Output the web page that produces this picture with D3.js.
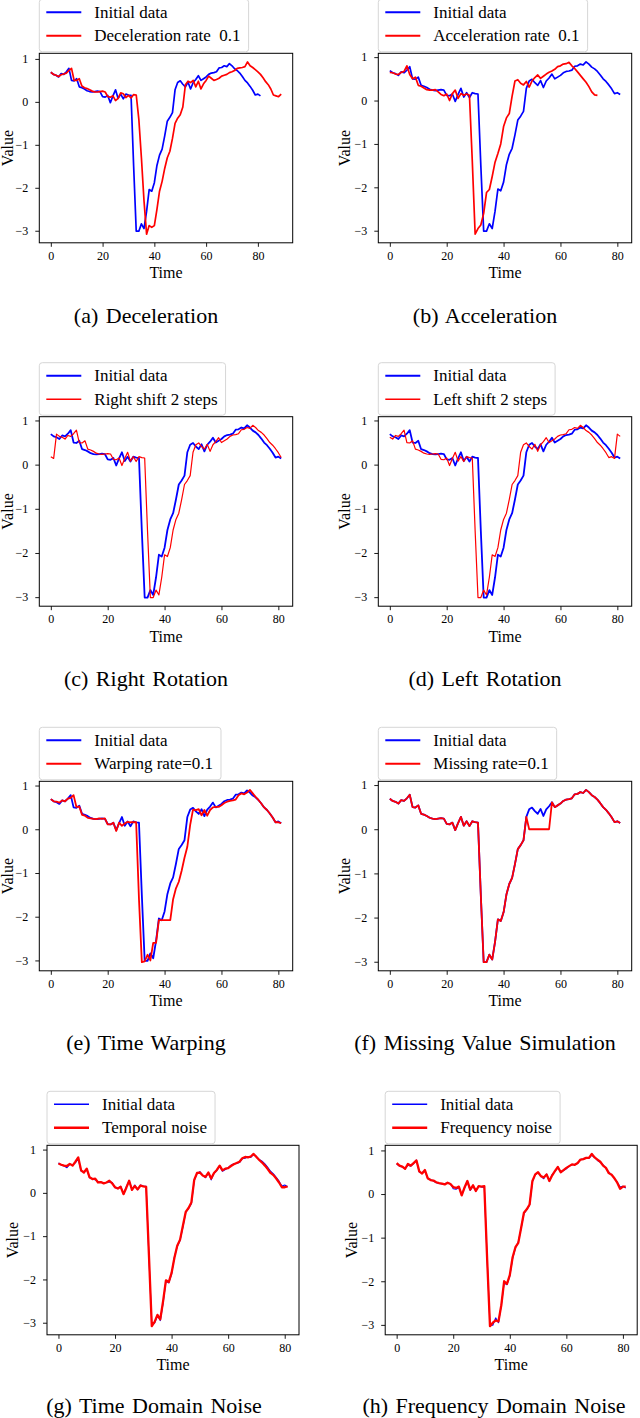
<!DOCTYPE html>
<html><head><meta charset="utf-8">
<script src="https://cdn.jsdelivr.net/npm/d3@7"></script>
<style>
html,body{margin:0;padding:0;background:#fff;}
svg{display:block;font-family:"Liberation Serif","Times New Roman",serif;}
</style></head><body>
<svg id="chart" width="640" height="1418"></svg>
<script>
// ---------- DATA ----------
const initialData = [0.69,0.64,0.62,0.58,0.66,0.64,0.70,0.78,0.50,0.49,
 0.54,0.35,0.33,0.30,0.26,0.24,0.23,0.24,0.25,0.24,
 0.12,0.11,0.15,-0.02,0.14,0.28,0.08,0.18,0.07,0.18,
 0.16,0.15,-1.50,-3.01,-3.01,-2.84,-2.95,-2.55,-2.04,-2.08,
 -1.88,-1.48,-1.24,-1.10,-0.79,-0.45,-0.36,-0.25,0.28,0.45,
 0.49,0.41,0.35,0.46,0.30,0.45,0.52,0.61,0.50,0.54,
 0.58,0.64,0.67,0.68,0.70,0.79,0.80,0.84,0.82,0.89,
 0.84,0.77,0.73,0.67,0.59,0.50,0.44,0.36,0.27,0.16,
 0.18,0.14];

const decelerated = [0.69,0.64,0.62,0.59,0.63,0.65,0.67,0.73,0.78,0.50,
 0.50,0.54,0.37,0.33,0.31,0.28,0.25,0.23,0.23,0.24,
 0.25,0.23,0.12,0.11,0.14,0.03,0.08,0.21,0.19,0.10,
 0.15,0.09,0.17,0.16,-0.40,-1.30,-2.30,-3.08,-2.88,-2.92,
 -2.88,-2.50,-2.08,-1.85,-1.55,-1.30,-1.15,-0.85,-0.50,-0.38,
 -0.30,-0.12,0.40,0.48,0.45,0.50,0.35,0.48,0.30,0.42,
 0.50,0.60,0.55,0.50,0.52,0.55,0.60,0.62,0.64,0.68,
 0.70,0.73,0.78,0.79,0.80,0.82,0.93,0.84,0.80,0.75,
 0.70,0.64,0.56,0.47,0.40,0.30,0.16,0.14,0.12,0.18];

const accelerated = [0.65,0.64,0.61,0.60,0.65,0.67,0.80,0.60,0.50,0.54,
 0.35,0.33,0.29,0.25,0.24,0.24,0.25,0.20,0.14,0.11,
 0.15,0.00,0.16,0.24,0.05,0.16,0.12,0.15,0.12,-1.40,
 -3.08,-2.95,-2.87,-2.60,-2.12,-2.05,-1.75,-1.42,-1.22,-1.00,
 -0.60,-0.40,-0.30,0.10,0.45,0.48,0.40,0.36,0.44,0.31,
 0.45,0.53,0.59,0.51,0.56,0.61,0.65,0.68,0.72,0.78,
 0.80,0.84,0.85,0.88,0.80,0.74,0.66,0.58,0.50,0.42,
 0.32,0.20,0.13,0.12];

const rightShifted = [0.18,0.14,0.69,0.64,0.62,0.58,0.66,0.64,0.70,0.78,
 0.50,0.49,0.54,0.35,0.33,0.30,0.26,0.24,0.23,0.24,
 0.25,0.24,0.12,0.11,0.15,-0.02,0.14,0.28,0.08,0.18,
 0.07,0.18,0.16,0.15,-1.50,-3.01,-3.01,-2.84,-2.95,-2.55,
 -2.04,-2.08,-1.88,-1.48,-1.24,-1.10,-0.79,-0.45,-0.36,-0.25,
 0.28,0.45,0.49,0.41,0.35,0.46,0.30,0.45,0.52,0.61,
 0.50,0.54,0.58,0.64,0.67,0.68,0.70,0.79,0.80,0.84,
 0.82,0.89,0.84,0.77,0.73,0.67,0.59,0.50,0.44,0.36,
 0.27,0.16];

const leftShifted = [0.62,0.58,0.66,0.64,0.70,0.78,0.50,0.49,0.54,0.35,
 0.33,0.30,0.26,0.24,0.23,0.24,0.25,0.24,0.12,0.11,
 0.15,-0.02,0.14,0.28,0.08,0.18,0.07,0.18,0.16,0.15,
 -1.50,-3.01,-3.01,-2.84,-2.95,-2.55,-2.04,-2.08,-1.88,-1.48,
 -1.24,-1.10,-0.79,-0.45,-0.36,-0.25,0.28,0.45,0.49,0.41,
 0.35,0.46,0.30,0.45,0.52,0.61,0.50,0.54,0.58,0.64,
 0.67,0.68,0.70,0.79,0.80,0.84,0.82,0.89,0.84,0.77,
 0.73,0.67,0.59,0.50,0.44,0.36,0.27,0.16,0.18,0.14,
 0.69,0.64];

const warped = [0.69,0.64,0.63,0.61,0.66,0.64,0.70,0.72,0.78,0.51,
 0.52,0.33,0.31,0.26,0.25,0.24,0.23,0.25,0.24,0.25,
 0.11,0.11,0.15,-0.04,0.15,0.08,0.13,0.17,0.16,0.16,
 0.16,-1.60,-3.04,-3.02,-2.87,-3.00,-2.60,-2.60,-2.08,-2.08,
 -2.08,-2.08,-2.08,-1.60,-1.35,-1.20,-0.95,-0.65,-0.40,0.10,
 0.45,0.44,0.46,0.32,0.44,0.31,0.44,0.50,0.51,0.51,
 0.55,0.60,0.63,0.65,0.66,0.68,0.78,0.82,0.80,0.84,
 0.90,0.82,0.74,0.67,0.59,0.50,0.44,0.36,0.27,0.16,
 0.16,0.14];

const missingFilled = [0.69,0.64,0.62,0.58,0.66,0.64,0.70,0.78,0.50,0.49,
 0.54,0.35,0.33,0.30,0.26,0.24,0.23,0.24,0.25,0.24,
 0.12,0.11,0.15,-0.02,0.14,0.28,0.08,0.18,0.07,0.18,
 0.16,0.15,-1.50,-3.01,-3.01,-2.84,-2.95,-2.55,-2.04,-2.08,
 -1.88,-1.48,-1.24,-1.10,-0.79,-0.45,-0.36,-0.25,0.28,0.00,
 0.00,0.00,0.00,0.00,0.00,0.00,0.00,0.61,0.50,0.54,
 0.58,0.64,0.67,0.68,0.70,0.79,0.80,0.84,0.82,0.89,
 0.84,0.77,0.73,0.67,0.59,0.50,0.44,0.36,0.27,0.16,
 0.18,0.14];

const temporalNoise = [0.68,0.65,0.63,0.62,0.67,0.63,0.72,0.82,0.52,0.47,
 0.56,0.36,0.32,0.33,0.24,0.25,0.22,0.24,0.28,0.22,
 0.13,0.10,0.14,-0.03,0.12,0.28,0.07,0.16,0.08,0.17,
 0.15,0.14,-1.45,-3.08,-2.98,-2.82,-2.92,-2.50,-2.02,-2.06,
 -1.85,-1.50,-1.22,-1.08,-0.76,-0.44,-0.35,-0.22,0.30,0.46,
 0.47,0.40,0.37,0.47,0.33,0.46,0.53,0.63,0.52,0.56,
 0.57,0.62,0.66,0.69,0.72,0.80,0.83,0.82,0.84,0.90,
 0.83,0.76,0.70,0.63,0.55,0.46,0.41,0.33,0.24,0.13,
 0.13,0.15];

const frequencyNoise = [0.71,0.65,0.63,0.58,0.69,0.65,0.71,0.77,0.52,0.47,
 0.55,0.36,0.32,0.31,0.27,0.25,0.24,0.22,0.26,0.23,
 0.16,0.14,0.17,-0.03,0.15,0.30,0.10,0.20,0.07,0.18,
 0.17,0.18,-1.50,-3.03,-2.95,-2.90,-2.92,-2.55,-2.00,-2.06,
 -1.86,-1.45,-1.22,-1.12,-0.78,-0.43,-0.35,-0.24,0.30,0.45,
 0.50,0.41,0.38,0.45,0.30,0.43,0.53,0.62,0.50,0.55,
 0.60,0.64,0.68,0.67,0.71,0.79,0.80,0.83,0.83,0.92,
 0.84,0.79,0.74,0.65,0.60,0.48,0.44,0.36,0.26,0.12,
 0.17,0.17];

const xTicks = [0, 20, 40, 60, 80];
const yTicks = [-3, -2, -1, 0, 1];
const initialLabel = "Initial data";
const augLabels = ["Deceleration rate  0.1", "Acceleration rate  0.1", "Right shift 2 steps",
  "Left shift 2 steps", "Warping rate=0.1", "Missing rate=0.1", "Temporal noise", "Frequency noise"];
const captions = ["(a) Deceleration", "(b) Acceleration", "(c) Right Rotation", "(d) Left Rotation",
  "(e) Time Warping", "(f) Missing Value Simulation", "(g) Time Domain Noise", "(h) Frequency Domain Noise"];
const xLabel = "Time", yLabel = "Value";
const augSeries = [decelerated, accelerated, rightShifted, leftShifted, warped, missingFilled, temporalNoise, frequencyNoise];

// ---------- LAYOUT ----------
const H = 189.5;
const layout = [
  {x:39.3,  y:53.3,   w:253.4, cx:146, cy:316,   bw:1.7, rw:1.7},
  {x:378.3, y:53.3,   w:253.4, cx:485, cy:316,   bw:1.7, rw:1.7},
  {x:39.3,  y:416.7,  w:253.4, cx:146, cy:679,   bw:1.8, rw:1.2},
  {x:378.3, y:416.7,  w:253.4, cx:485, cy:679,   bw:1.8, rw:1.2},
  {x:39.3,  y:781.3,  w:253.4, cx:146, cy:1042.5,bw:1.8, rw:1.8},
  {x:378.3, y:781.3,  w:253.4, cx:485, cy:1042.5,bw:1.8, rw:1.8},
  {x:47,    y:1145.3, w:252,   cx:154, cy:1406,  bw:1.1, rw:2.3},
  {x:385.2, y:1145.3, w:252,   cx:494, cy:1406,  bw:1.1, rw:2.3}
];
const BLUE = "#0000ff", RED = "#ff0000";

const svg = d3.select("#chart");
const fmt = d3.format("d");

layout.forEach((p, i) => {
  const red = augSeries[i], blue = initialData;
  const n = Math.max(red.length, blue.length) - 1;
  const xs = d3.scaleLinear().domain([-0.05 * n, n * 1.05]).range([p.x, p.x + p.w]);
  const all = blue.concat(red);
  const lo = d3.min(all), hi = d3.max(all), pad = (hi - lo) * 0.05;
  const ys = d3.scaleLinear().domain([lo - pad, hi + pad]).range([p.y + H, p.y]);
  const g = svg.append("g");

  const line = d3.line().x((d, k) => xs(k)).y(d => ys(d));
  g.append("path").datum(blue).attr("d", line).attr("fill", "none")
    .attr("stroke", BLUE).attr("stroke-width", p.bw).attr("stroke-linejoin", "round");
  g.append("path").datum(red).attr("d", line).attr("fill", "none")
    .attr("stroke", RED).attr("stroke-width", p.rw).attr("stroke-linejoin", "round");

  // axes
  const ax = g.append("g").attr("transform", `translate(0,${p.y + H})`)
    .call(d3.axisBottom(xs).tickValues(xTicks).tickFormat(fmt).tickSize(4).tickPadding(4.5));
  const ay = g.append("g").attr("transform", `translate(${p.x},0)`)
    .call(d3.axisLeft(ys).tickValues(yTicks).tickFormat(fmt).tickSize(4).tickPadding(7));
  [ax, ay].forEach(a => {
    a.select(".domain").remove();
    a.selectAll("text").attr("font-family", "Liberation Serif").attr("font-size", 12).attr("fill", "#000");
    a.selectAll("line").attr("stroke", "#000").attr("stroke-width", 0.9);
  });

  // frame
  g.append("rect").attr("x", p.x).attr("y", p.y).attr("width", p.w).attr("height", H)
    .attr("fill", "none").attr("stroke", "#000").attr("stroke-width", 1);

  // axis labels
  g.append("text").attr("x", p.x + p.w / 2).attr("y", p.y + H + 35.3)
    .attr("text-anchor", "middle").attr("font-size", 16).text(xLabel);
  g.append("text").attr("transform", `translate(${Math.max(p.x - 28.7, 13)},${p.y + H / 2}) rotate(-90)`)
    .attr("text-anchor", "middle").attr("font-size", 16).text(yLabel);

  // legend
  const lg = g.append("g").attr("transform", `translate(${p.x},${p.y - 54})`);
  const box = lg.append("rect").attr("x", 0).attr("y", 0).attr("height", 52.5).attr("rx", 3)
    .attr("fill", "#fff").attr("fill-opacity", 0.85).attr("stroke", "#d6d6d6").attr("stroke-width", 1);
  const items = [{label: initialLabel, c: BLUE, w: p.bw, y: 13}, {label: augLabels[i], c: RED, w: p.rw, y: 36.5}];
  let maxW = 0;
  items.forEach(it => {
    lg.append("line").attr("x1", 7).attr("x2", 42).attr("y1", it.y).attr("y2", it.y)
      .attr("stroke", it.c).attr("stroke-width", it.w + 0.3);
    const t = lg.append("text").attr("x", 55).attr("y", it.y + 5.7).attr("font-size", 17)
      .attr("xml:space", "preserve").style("white-space", "pre").text(it.label);
    maxW = Math.max(maxW, t.node().getComputedTextLength());
  });
  box.attr("width", 55 + maxW + 8);

  // caption
  g.append("text").attr("x", p.cx).attr("y", p.cy + 7).attr("text-anchor", "middle")
    .attr("font-size", 22).attr("word-spacing", 2).text(captions[i]);
});
</script>
</body></html>
